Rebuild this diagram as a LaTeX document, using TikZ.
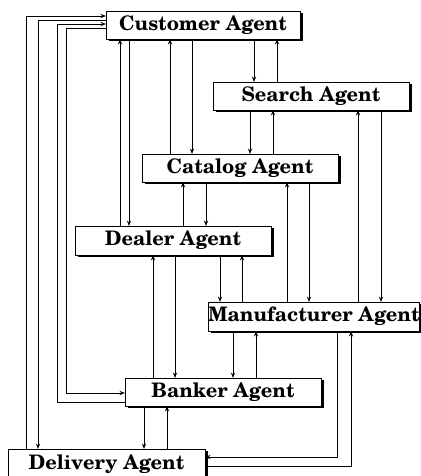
\documentclass[tikz,border=0pt]{standalone}
\usepackage{fontspec}
\setmainfont{texgyreschola}[Extension=.otf,UprightFont=*-regular,BoldFont=*-bold,ItalicFont=*-italic,BoldItalicFont=*-bolditalic]
\usetikzlibrary{arrows.meta,shadows}
\begin{document}
\begin{tikzpicture}[x=1pt,y=-1pt,
  agent/.style={draw=black,line width=0.9pt,fill=white,rectangle,anchor=north west,
    inner sep=0pt,outer sep=0pt,minimum height=28pt,
    font=\fontsize{20}{24}\selectfont\bfseries,
    drop shadow={fill=black,opacity=1,shadow xshift=2.6pt,shadow yshift=-2.4pt}},
  link/.style={line width=0.95pt,-{Stealth[length=5.5pt,width=4.2pt]}}]
\useasboundingbox (0,0) rectangle (420,476);
% agents
\node[agent,minimum width=194pt] (cust)   at (106,11)  {Customer Agent};
\node[agent,minimum width=196pt] (search) at (213,82)  {Search Agent};
\node[agent,minimum width=196pt] (cat)    at (142,154) {Catalog Agent};
\node[agent,minimum width=196pt,minimum height=29pt] (deal) at (75,226) {Dealer Agent};
\node[agent,minimum width=208pt,minimum height=29pt] (manu) at (208,302) {Manufacturer Agent};
\node[agent,minimum width=196pt] (bank)   at (125,378) {Banker Agent};
\node[agent,minimum width=197pt,minimum height=30pt] (deliv) at (8,449) {Delivery Agent};
% vertical links between neighbouring agents
\draw[link] (cust.south -| 254,0)   -- (search.north -| 254,0);
\draw[link] (search.north -| 277,0) -- (cust.south -| 277,0);
\draw[link] (search.south -| 250,0) -- (cat.north -| 250,0);
\draw[link] (cat.north -| 273,0)    -- (search.south -| 273,0);
\draw[link] (manu.north -| 358,0)   -- (search.south -| 358,0);
\draw[link] (search.south -| 381,0) -- (manu.north -| 381,0);
\draw[link] (cat.north -| 170,0)    -- (cust.south -| 170,0);
\draw[link] (cust.south -| 192,0)   -- (cat.north -| 192,0);
\draw[link] (deal.north -| 120,0)   -- (cust.south -| 120,0);
\draw[link] (cust.south -| 129,0)   -- (deal.north -| 129,0);
\draw[link] (deal.north -| 183,0)   -- (cat.south -| 183,0);
\draw[link] (cat.south -| 206,0)    -- (deal.north -| 206,0);
\draw[link] (manu.north -| 287,0)   -- (cat.south -| 287,0);
\draw[link] (cat.south -| 309,0)    -- (manu.north -| 309,0);
\draw[link] (deal.south -| 220,0)   -- (manu.north -| 220,0);
\draw[link] (manu.north -| 242,0)   -- (deal.south -| 242,0);
\draw[link] (bank.north -| 153,0)   -- (deal.south -| 153,0);
\draw[link] (deal.south -| 175,0)   -- (bank.north -| 175,0);
\draw[link] (manu.south -| 233,0)   -- (bank.north -| 233,0);
\draw[link] (bank.north -| 256,0)   -- (manu.south -| 256,0);
\draw[link] (bank.south -| 144,0)   -- (deliv.north -| 144,0);
\draw[link] (deliv.north -| 167,0)  -- (bank.south -| 167,0);
% routed links along the left margin
\draw[link] (deliv.north -| 26,0) -- (26,16) -- (cust.west |- 0,16);
\draw[link] (cust.west |- 0,20) -- (38,20) -- (deliv.north -| 38,0);
\draw[link] (bank.west |- 0,402) -- (57,402) -- (57,24) -- (cust.west |- 0,24);
\draw[link] (cust.west |- 0,28) -- (66,28) -- (66,393) -- (bank.west |- 0,393);
% routed links along the bottom
\draw[link] (manu.south -| 337,0) -- (337,457) -- (deliv.east |- 0,457);
\draw[link] (deliv.east |- 0,466) -- (351,466) -- (manu.south -| 351,0);
\end{tikzpicture}
\end{document}
